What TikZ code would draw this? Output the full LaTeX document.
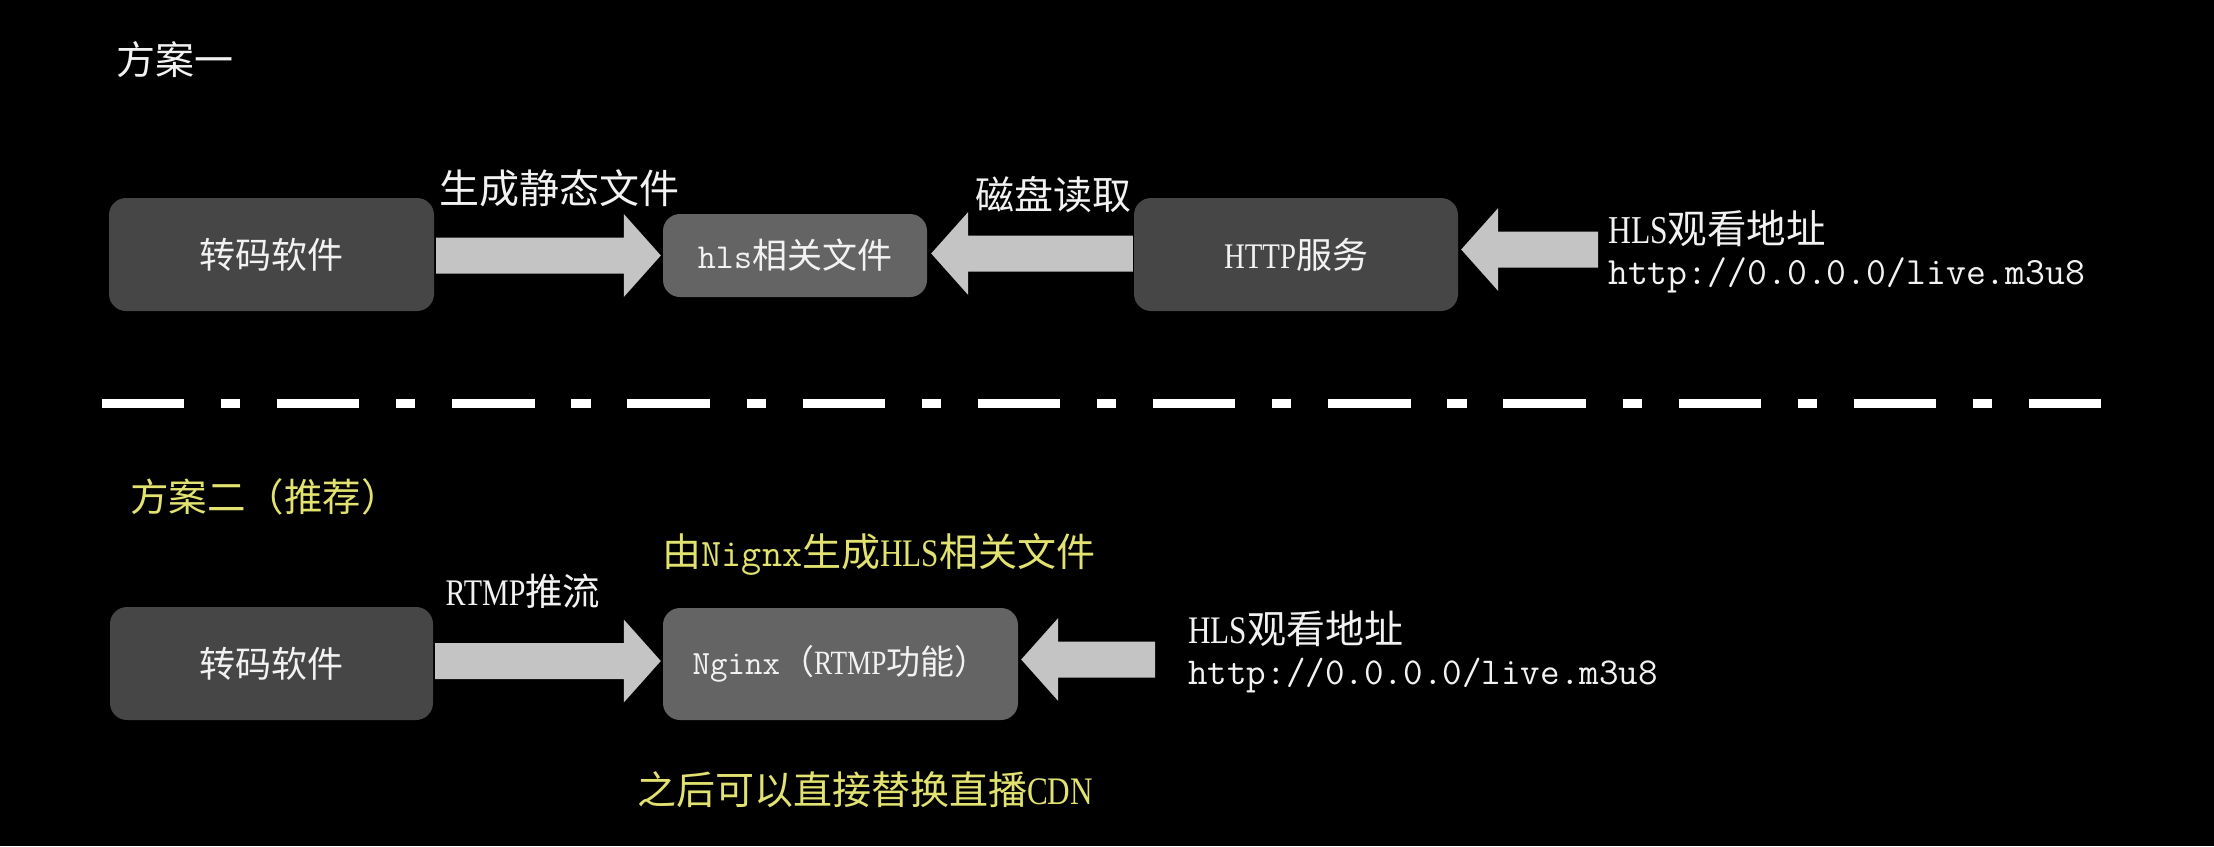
\documentclass[tikz,border=0pt]{standalone}
\usepackage{fontspec}
\setmainfont{Liberation Serif}
\newfontfamily\lat[FakeStretch=0.8]{Liberation Serif}
\newfontfamily\cjk{Noto Sans CJK SC}
\usetikzlibrary{calc}
\newcommand\fsz[1]{\fontsize{#1}{#1}\selectfont}
\definecolor{boxdark}{RGB}{70,70,70}
\definecolor{boxlight}{RGB}{100,100,100}
\definecolor{arrowgray}{RGB}{196,196,196}
\definecolor{txtyellow}{RGB}{226,226,112}
\definecolor{txtwhite}{RGB}{242,242,242}
% #1 start point, #2 tip point, #3 signed head length (positive: pointing right)
\newcommand\fatarrow[3]{%
  \fill[arrowfill] let \p1=#1, \p2=#2 in
    ({\x1},{\y2+18pt}) -- ({\x2-(#3)},{\y2+18pt}) -- ({\x2-(#3)},{\y2+41.5pt})
    -- (\x2,\y2) -- ({\x2-(#3)},{\y2-41.5pt}) -- ({\x2-(#3)},{\y2-18pt})
    -- ({\x1},{\y2-18pt}) -- cycle;}
\begin{document}
\begin{tikzpicture}[x=1pt,y=-1pt,
  arrowfill/.style={fill=arrowgray},
  boxd/.style={fill=boxdark, rounded corners=17pt, inner sep=0pt, text=txtwhite, font=\cjk\fsz{36}},
  boxl/.style={fill=boxlight, rounded corners=17pt, inner sep=0pt, text=txtwhite, font=\cjk\fsz{35}},
  wlabel/.style={inner sep=0pt, text=txtwhite},
  ylabel/.style={inner sep=0pt, text=txtyellow},
  sepline/.style={draw=white, line width=8.7pt, dash pattern=on 82.5pt off 36.7pt on 19.3pt off 36.7pt}]
\fill[black] (0,0) rectangle (2214,846);
\useasboundingbox (0,0) rectangle (2214,846);

% ---------- plan one ----------
\node[wlabel, font=\cjk\fsz{39}, anchor=west] (t1) at (116,60) {方案一};

\node[boxd, minimum width=325pt, minimum height=113pt] (b1) at (271.5,254.5) {转码软件};
\node[boxl, minimum width=264pt, minimum height=83pt] (hls) at (795,255.5) {{\ttfamily hls}相关文件};
\node[boxd, minimum width=324pt, minimum height=113pt] (http) at (1296,254.5) {{\lat HTTP}服务};

\node[wlabel, font=\cjk\fsz{40}] (l1) at (559,188) {生成静态文件};
\node[wlabel, font=\cjk\fsz{39}] (l2) at (1053,195) {磁盘读取};
\node[wlabel, font=\cjk\fsz{39.5}, anchor=west] (h1) at (1608,229) {{\lat HLS}观看地址};
\node[wlabel, font=\ttfamily\fsz{38.6}, anchor=west] (u1) at (1608,275.5) {http://0.0.0.0/live.m3u8};

\coordinate (c3) at (1598,249.5);
\fatarrow{($(b1.east)+(2,0)$)}{($(hls.west)+(-2,0)$)}{37pt}
\fatarrow{($(http.west)+(-1,0)$)}{($(hls.east)+(4,-2)$)}{-37pt}
\fatarrow{(c3)}{($(http.east |- c3)+(3,0)$)}{-37pt}

% ---------- separator ----------
\coordinate (s0) at (101.7,403.3);
\coordinate (s1) at (2101,403.3);
\draw[sepline] (s0) -- (s1);

% ---------- plan two ----------
\node[ylabel, font=\cjk\fsz{38.5}, anchor=west] (t2) at (130,497) {方案二（推荐）};
\node[ylabel, font=\cjk\fsz{39}] (l3) at (879,554) {由{\ttfamily Nignx}生成{\lat HLS}相关文件};
\node[wlabel, font=\cjk\fsz{37.5}] (l4) at (523,591) {{\lat RTMP}推流};

\node[boxd, minimum width=323pt, minimum height=113pt] (b2) at (271.5,663.5) {转码软件};
\node[boxl, minimum width=355pt, minimum height=112pt, font=\cjk\fsz{34}] (ngx) at (840.5,664) {{\ttfamily Nginx}（{\lat RTMP}功能）};

\node[wlabel, font=\cjk\fsz{39}, anchor=west] (h2) at (1188,629) {{\lat HLS}观看地址};
\node[wlabel, font=\ttfamily\fsz{38}, anchor=west] (u2) at (1188,676) {http://0.0.0.0/live.m3u8};

\node[ylabel, font=\cjk\fsz{39}] (l5) at (865,790) {之后可以直接替换直播{\lat CDN}};

\coordinate (c5) at (1155,659.5);
\fatarrow{($(b2.east)+(2,0)$)}{($(ngx.west)+(-2,-3)$)}{37pt}
\fatarrow{(c5)}{($(ngx.east |- c5)+(3,0)$)}{-37pt}
\end{tikzpicture}
\end{document}
